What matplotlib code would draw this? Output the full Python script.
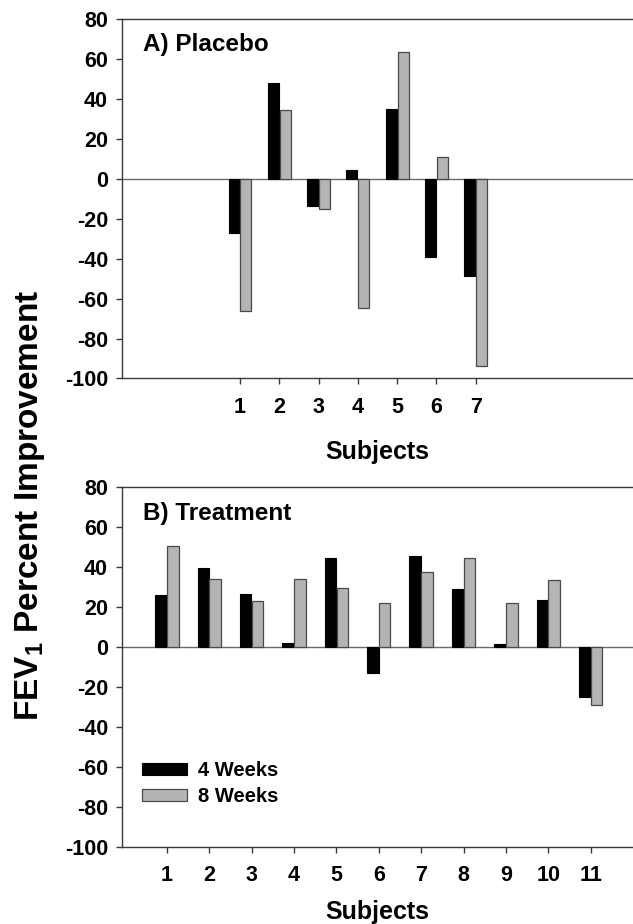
import numpy as np
import matplotlib
matplotlib.use("Agg")
import matplotlib.pyplot as plt

plt.rcParams['font.family'] = ['Liberation Sans', 'DejaVu Sans']
plt.rcParams['font.weight'] = 'bold'
plt.rcParams['axes.unicode_minus'] = False
plt.rcParams['mathtext.fontset'] = 'custom'
plt.rcParams['mathtext.bf'] = 'Liberation Sans:bold'
plt.rcParams['mathtext.rm'] = 'Liberation Sans:bold'
plt.rcParams['mathtext.default'] = 'bf'

# data
placebo_subjects = [1, 2, 3, 4, 5, 6, 7]
placebo_4wk = [-27, 48, -13.5, 4.3, 35, -39, -48.5]
placebo_8wk = [-66, 34.5, -15, -64.5, 63.5, 11, -94]

treat_subjects = [1, 2, 3, 4, 5, 6, 7, 8, 9, 10, 11]
treat_4wk = [26, 39.5, 26.5, 2.2, 44.5, -13, 45.5, 29, 1.3, 23.5, -25]
treat_8wk = [50.5, 34, 23, 34, 29.5, 22, 37.5, 44.5, 22, 33.5, -29]

yticks = [-100, -80, -60, -40, -20, 0, 20, 40, 60, 80]

BLACK = '#000000'
GRAY = '#b4b4b4'
EDGE_GRAY = '#4a4a4a'
SPINE = '#3a3a3a'

fig = plt.figure(figsize=(6.33, 9.24), dpi=100)
ax1 = fig.add_axes([0.1927, 0.5904, 0.8073, 0.3891])
ax2 = fig.add_axes([0.1927, 0.0833, 0.8073, 0.3896])

def draw_panel(ax, subj, v4, v8, xlim, title, title_y, w=0.28, off=0.15):
    x = np.array(subj, dtype=float)
    ax.bar(x - off, v4, width=w, color=BLACK, edgecolor=BLACK, linewidth=0.8,
           label='4 Weeks', zorder=3)
    ax.bar(x + off, v8, width=w, color=GRAY, edgecolor=EDGE_GRAY, linewidth=0.9,
           label='8 Weeks', zorder=3)
    ax.axhline(0, color='#6a6a6a', linewidth=1.0, zorder=2)
    ax.set_xlim(*xlim)
    ax.set_ylim(-100, 80)
    ax.set_yticks(yticks)
    ax.set_xticks(subj)
    ax.tick_params(axis='both', direction='out', length=4, width=1, color=SPINE,
                   labelsize=15.5)
    ax.tick_params(axis='y', pad=6)
    ax.tick_params(axis='x', pad=9)
    for lab in ax.get_xticklabels() + ax.get_yticklabels():
        lab.set_fontweight('bold')
    for s in ['left', 'bottom', 'top']:
        ax.spines[s].set_color(SPINE)
        ax.spines[s].set_linewidth(1.0)
    ax.spines['right'].set_visible(False)
    ax.text(0.041, title_y, title, transform=ax.transAxes, fontsize=17.5,
            fontweight='bold', ha='left', va='center')

draw_panel(ax1, placebo_subjects, placebo_4wk, placebo_8wk, (-2.0, 11.0),
           'A) Placebo', 0.928)
draw_panel(ax2, treat_subjects, treat_4wk, treat_8wk, (-0.06, 12.0),
           'B) Treatment', 0.926, w=0.27, off=0.14)

ax1.set_xlabel('Subjects', fontsize=18, fontweight='bold')
ax1.xaxis.set_label_coords(0.5, -0.170)
ax2.set_xlabel('Subjects', fontsize=18, fontweight='bold')
ax2.xaxis.set_label_coords(0.5, -0.148)

leg = ax2.legend(loc='upper left', bbox_to_anchor=(0.04, 0.238), frameon=False,
                 fontsize=14.5, handlelength=2.2, handleheight=0.55, handletextpad=0.55,
                 labelspacing=0.35, borderpad=0, borderaxespad=0)

fig.text(30 / 633, 0.453, 'FEV$_1$ Percent Improvement', rotation=90,
         fontsize=24, fontweight='bold', ha='center', va='center')

fig.savefig('out.png', dpi=100)
